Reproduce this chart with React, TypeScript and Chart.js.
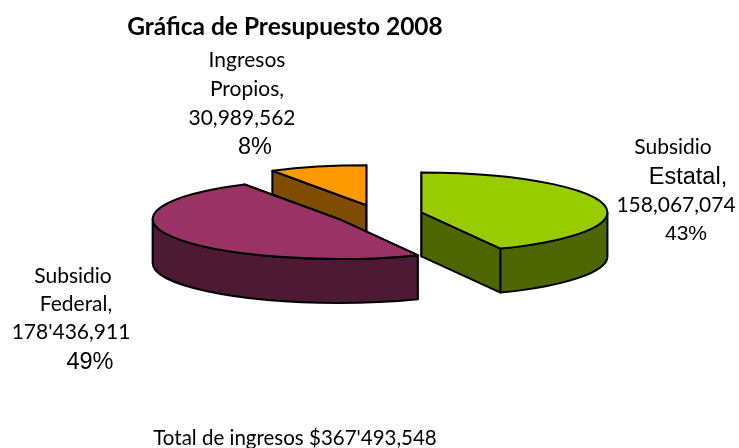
import React, { useEffect, useRef } from "react";
import { Chart, registerables } from "chart.js";

Chart.register(...registerables);

const categories = ["Subsidio Estatal", "Subsidio Federal", "Ingresos Propios"];
const values = [158067074, 178436911, 30989562];
const topColors = ["#99CC00", "#993366", "#FF9900"];
const wallColors = ["#4D6600", "#4D1A33", "#804D00"];
const chartTitle = "Gráfica de Presupuesto 2008";
const footerText = "Total de ingresos $367'493,548";

const LATO = "Lato, Carlito, sans-serif";
const ARIAL = "'Liberation Sans', Arial, sans-serif";

type TextItem = { t: string; x: number; y: number; font: string; align?: CanvasTextAlign };
const textItems: TextItem[] = [
  { t: chartTitle, x: 285, y: 35, font: `bold 24.5px ${LATO}` },
  { t: "Ingresos", x: 247, y: 67, font: `21px ${LATO}` },
  { t: "Propios,", x: 247, y: 96, font: `21px ${LATO}` },
  { t: "30,989,562", x: 242, y: 125, font: `21px ${LATO}` },
  { t: "8%", x: 255, y: 154, font: `23.5px ${ARIAL}` },
  { t: "Subsidio", x: 673, y: 154, font: `21px ${LATO}` },
  { t: "Estatal,", x: 688, y: 184, font: `23.5px ${ARIAL}` },
  { t: "158,067,074", x: 676, y: 212, font: `21px ${LATO}` },
  { t: "43%", x: 686, y: 240, font: `21px ${ARIAL}` },
  { t: "Subsidio", x: 73, y: 283, font: `21px ${LATO}` },
  { t: "Federal,", x: 76, y: 311, font: `21px ${LATO}` },
  { t: "178'436,911", x: 71, y: 339, font: `21px ${LATO}` },
  { t: "49%", x: 90, y: 369, font: `23.5px ${ARIAL}` },
  { t: footerText, x: 295, y: 445, font: `20.5px ${LATO}` },
];

const TILT = 0.215;
const DEPTH = 44;
const EXPLODE = 44.5;
const CENTER_Y = 214.5;

const pie3d = {
  id: "pie3d",
  beforeDatasetDraw(chart: any) {
    const ctx: CanvasRenderingContext2D = chart.ctx;
    const arcs = chart.getDatasetMeta(0).data.map((arc: any, i: number) => {
      const mid = (arc.startAngle + arc.endAngle) / 2;
      return {
        i,
        a0: arc.startAngle,
        a1: arc.endAngle,
        r: arc.outerRadius,
        cx: arc.x + Math.cos(mid) * EXPLODE,
        cy: CENTER_Y + Math.sin(mid) * EXPLODE * TILT,
      };
    });
    arcs.sort((p: any, q: any) => p.cy - q.cy);
    ctx.save();
    ctx.lineJoin = "round";
    ctx.lineWidth = 2;
    ctx.strokeStyle = "#000";
    for (const s of arcs) {
      const px = (a: number) => s.cx + s.r * Math.cos(a);
      const py = (a: number) => s.cy + s.r * Math.sin(a) * TILT;
      ctx.fillStyle = wallColors[s.i];
      // Cut faces
      for (const a of [s.a0, s.a1]) {
        ctx.beginPath();
        ctx.moveTo(s.cx, s.cy);
        ctx.lineTo(px(a), py(a));
        ctx.lineTo(px(a), py(a) + DEPTH);
        ctx.lineTo(s.cx, s.cy + DEPTH);
        ctx.closePath();
        ctx.fill();
        ctx.stroke();
      }
      // Outer wall on the front half of the ellipse
      const from = Math.max(s.a0, 0);
      const to = Math.min(s.a1, Math.PI);
      if (to > from) {
        ctx.beginPath();
        ctx.ellipse(s.cx, s.cy, s.r, s.r * TILT, 0, from, to);
        ctx.ellipse(s.cx, s.cy + DEPTH, s.r, s.r * TILT, 0, to, from, true);
        ctx.closePath();
        ctx.fill();
        ctx.stroke();
      }
      // Top face
      ctx.fillStyle = topColors[s.i];
      ctx.beginPath();
      ctx.moveTo(s.cx, s.cy);
      ctx.ellipse(s.cx, s.cy, s.r, s.r * TILT, 0, s.a0, s.a1);
      ctx.closePath();
      ctx.fill();
      ctx.stroke();
    }
    ctx.restore();
    return false;
  },
  afterDraw(chart: any) {
    const ctx: CanvasRenderingContext2D = chart.ctx;
    ctx.save();
    ctx.fillStyle = "#000";
    ctx.textBaseline = "alphabetic";
    for (const item of textItems) {
      ctx.font = item.font;
      ctx.textAlign = item.align ?? "center";
      ctx.fillText(item.t, item.x, item.y);
    }
    ctx.restore();
  },
};

export default function App() {
  const ref = useRef<HTMLCanvasElement>(null);
  useEffect(() => {
    document.body.style.margin = "0";
    document.body.style.background = "#fff";
    const chart = new Chart(ref.current!, {
      type: "pie",
      data: {
        labels: categories,
        datasets: [{ data: values, backgroundColor: topColors, borderWidth: 0 }],
      },
      options: {
        responsive: false,
        animation: false,
        layout: { padding: { left: 192, right: 175, top: 38, bottom: 38 } },
        plugins: { legend: { display: false }, tooltip: { enabled: false }, title: { display: false } },
      },
      plugins: [pie3d],
    } as any);
    return () => chart.destroy();
  }, []);
  return <canvas ref={ref} width={739} height={448} style={{ display: "block", width: 739, height: 448 }} />;
}
